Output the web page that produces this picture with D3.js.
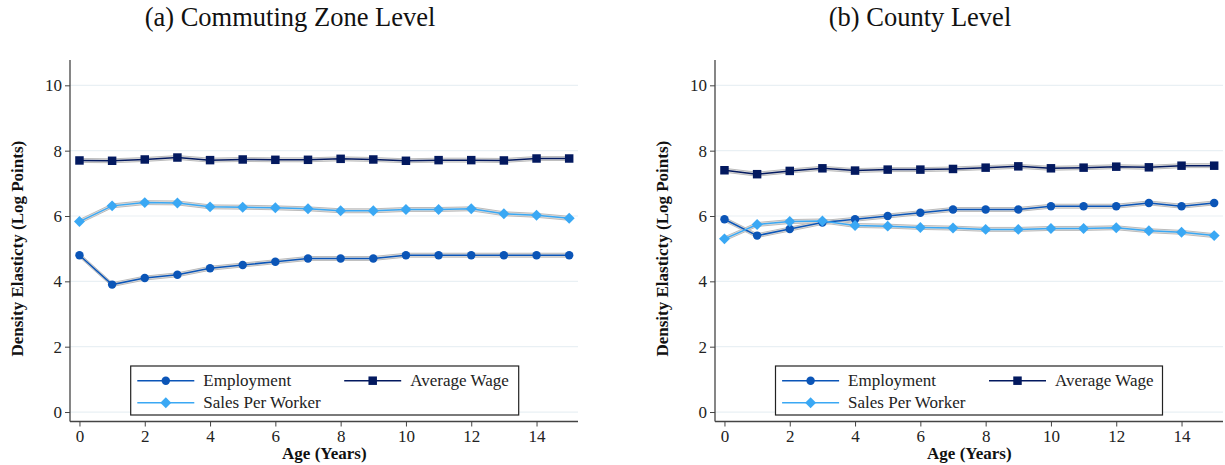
<!DOCTYPE html>
<html><head><meta charset="utf-8">
<script src="https://cdn.jsdelivr.net/npm/d3@7"></script>
<style>
html,body{margin:0;padding:0;background:#fff;}
svg{display:block;font-family:"Liberation Serif","DejaVu Serif",serif;}
svg text{font-family:"Liberation Serif","DejaVu Serif",serif;}
</style></head>
<body>
<svg id="chart" width="1225" height="465"></svg>
<script>
// ---- data ----
const ages = [0,1,2,3,4,5,6,7,8,9,10,11,12,13,14,15];
const xTicks = [0,2,4,6,8,10,12,14];
const yTicks = [0,2,4,6,8,10];
const seriesNames = ["Employment","Average Wage","Sales Per Worker"];
const panelTitles = ["(a) Commuting Zone Level","(b) County Level"];

const czEmployment = [4.8,3.9,4.1,4.2,4.4,4.5,4.6,4.7,4.7,4.7,4.8,4.8,4.8,4.8,4.8,4.8];
const czWage       = [7.70,7.69,7.73,7.79,7.71,7.73,7.72,7.72,7.75,7.73,7.69,7.71,7.71,7.70,7.76,7.76];
const czSales      = [5.83,6.31,6.41,6.40,6.28,6.27,6.25,6.22,6.16,6.16,6.20,6.20,6.22,6.07,6.02,5.93];

const coEmployment = [5.9,5.4,5.6,5.8,5.9,6.0,6.1,6.2,6.2,6.2,6.3,6.3,6.3,6.4,6.3,6.4];
const coWage       = [7.40,7.28,7.38,7.46,7.39,7.42,7.42,7.44,7.48,7.52,7.46,7.48,7.51,7.49,7.54,7.54];
const coSales      = [5.30,5.74,5.83,5.85,5.71,5.69,5.65,5.63,5.59,5.59,5.62,5.62,5.64,5.55,5.50,5.40];

const ciHalf = 0.06;

// ---- styles ----
const colors = {"Employment":"#0b55b7","Average Wage":"#03195f","Sales Per Worker":"#3aa8f4"};
const markers = {"Employment":d3.symbolCircle,"Average Wage":d3.symbolSquare,"Sales Per Worker":d3.symbolSquare};
const mrot = {"Employment":0,"Average Wage":0,"Sales Per Worker":45};
const msize = {"Employment":56,"Average Wage":72,"Sales Per Worker":60};

const panels = [
  {title:panelTitles[0], titleX:290, x0:70, x1:578, data:{"Employment":czEmployment,"Average Wage":czWage,"Sales Per Worker":czSales}, legX:130.7, legW:388},
  {title:panelTitles[1], titleX:920, x0:715, x1:1223, data:{"Employment":coEmployment,"Average Wage":coWage,"Sales Per Worker":coSales}, legX:775.5, legW:387}
];

const svg = d3.select("#chart");
const y = d3.scaleLinear().domain([-0.29,10.775]).range([421.5,60]);
const serif = '"Liberation Serif","DejaVu Serif",serif';

panels.forEach(p=>{
  const g = svg.append("g");
  const x = d3.scaleLinear().domain([-0.29,15.27]).range([p.x0,p.x1]);

  // gridlines
  g.append("g").selectAll("line").data(yTicks).join("line")
    .attr("x1",p.x0).attr("x2",p.x1)
    .attr("y1",d=>y(d)).attr("y2",d=>y(d))
    .attr("stroke","#e9f0f4").attr("stroke-width",1.2);

  // bands
  const area = d3.area().x((d,i)=>x(ages[i])).y0(d=>y(d-ciHalf)).y1(d=>y(d+ciHalf));
  const edgeLo = d3.line().x((d,i)=>x(ages[i])).y(d=>y(d-ciHalf));
  const edgeHi = d3.line().x((d,i)=>x(ages[i])).y(d=>y(d+ciHalf));
  seriesNames.forEach(s=>{
    const vals = p.data[s];
    g.append("path").attr("d",area(vals)).attr("fill","#dedede");
    g.append("path").attr("d",edgeLo(vals)).attr("fill","none").attr("stroke","#bcbcbc").attr("stroke-width",1);
    g.append("path").attr("d",edgeHi(vals)).attr("fill","none").attr("stroke","#bcbcbc").attr("stroke-width",1);
  });
  const line = d3.line().x((d,i)=>x(ages[i])).y(d=>y(d));
  seriesNames.forEach(s=>{
    const vals = p.data[s];
    g.append("path").attr("d",line(vals)).attr("fill","none").attr("stroke",colors[s]).attr("stroke-width",1.5);
    g.append("g").selectAll("path").data(vals).join("path")
      .attr("transform",(d,i)=>`translate(${x(ages[i])},${y(d)}) rotate(${mrot[s]})`)
      .attr("d",d3.symbol().type(markers[s]).size(msize[s]))
      .attr("fill",colors[s]);
  });

  // axes
  const yAxis = d3.axisLeft(y).tickValues(yTicks).tickSize(5).tickPadding(3);
  const ya = g.append("g").attr("transform",`translate(${p.x0},0)`).call(yAxis);
  const xAxis = d3.axisBottom(x).tickValues(xTicks).tickSize(5).tickPadding(3);
  const xa = g.append("g").attr("transform",`translate(0,421.5)`).call(xAxis);
  [ya,xa].forEach(a=>{
    a.attr("font-family",serif).attr("font-size",17);
    a.select(".domain").attr("stroke","#444").attr("stroke-width",1.3)
      .attr("d", a===ya ? `M0,60V421.5` : `M${p.x0},0H${p.x1}`);
    a.selectAll(".tick line").attr("stroke","#444").attr("stroke-width",1);
    a.selectAll(".tick text").style("font-family",serif).attr("font-size",17).attr("fill","#222");
  });

  // titles
  svg.append("text").attr("x",p.titleX).attr("y",26)
    .attr("text-anchor","middle").attr("font-size",26.5).attr("fill","#111").text(p.title);
  svg.append("text").attr("x",x(7.5)).attr("y",459)
    .attr("text-anchor","middle").attr("font-size",17).attr("font-weight","bold").attr("fill","#111").text("Age (Years)");
  svg.append("text").attr("transform",`translate(${p.x0-47},${y(5)}) rotate(-90)`)
    .attr("text-anchor","middle").attr("font-size",17).attr("font-weight","bold").attr("fill","#111").text("Density Elasticty (Log Points)");

  // legend
  const lg = svg.append("g").attr("transform",`translate(${p.legX},366)`);
  lg.append("rect").attr("width",p.legW).attr("height",49).attr("fill","#fff").attr("stroke","#222").attr("stroke-width",1.2);
  const entries = [
    {s:"Employment",cx:6.6,cy:14.7},
    {s:"Average Wage",cx:213.5,cy:14.7},
    {s:"Sales Per Worker",cx:6.6,cy:36.7}
  ];
  entries.forEach(e=>{
    lg.append("line").attr("x1",e.cx).attr("x2",e.cx+57).attr("y1",e.cy).attr("y2",e.cy)
      .attr("stroke",colors[e.s]).attr("stroke-width",1.5);
    lg.append("path").attr("transform",`translate(${e.cx+28.5},${e.cy}) rotate(${mrot[e.s]})`)
      .attr("d",d3.symbol().type(markers[e.s]).size(msize[e.s])).attr("fill",colors[e.s]);
    lg.append("text").attr("x",e.cx+66).attr("y",e.cy+5.5).attr("font-size",17).attr("fill","#222").text(e.s);
  });
});
</script>
</body></html>
